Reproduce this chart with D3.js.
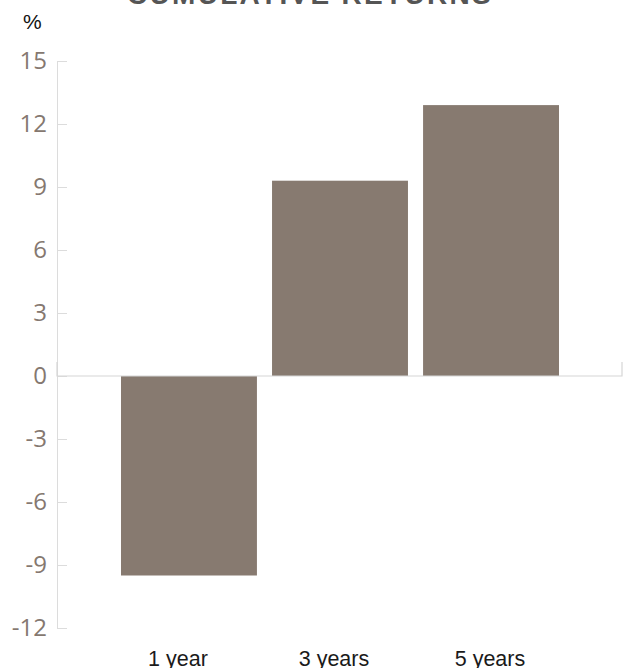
<!DOCTYPE html>
<html>
<head>
<meta charset="utf-8">
<script src="https://cdn.jsdelivr.net/npm/d3@7"></script>
<style>
  body { margin: 0; background: #fff; }
  svg { display: block; }
</style>
</head>
<body>
<div id="chart"></div>
<script>
var categories = ["1 year", "3 years", "5 years"];
var returns = [-9.5, 9.3, 12.9];
var yTicks = [15, 12, 9, 6, 3, 0, -3, -6, -9, -12];

var W = 629, H = 668;
var axisX = 57, axisEnd = 622;
var barColor = "#877a70";
var lineColor = "#dcdcdc";

var svg = d3.select("#chart")
  .append("svg")
  .attr("width", W)
  .attr("height", H);

var y = d3.scaleLinear()
  .domain([-12, 15])
  .range([628, 61]);

var x = d3.scaleBand()
  .domain(categories)
  .range([121, 559])
  .paddingInner(0.1)
  .paddingOuter(0);

// labels sit on their own slightly wider spacing in the original
var xLabel = d3.scalePoint()
  .domain(categories)
  .range([178, 490]);

// title (cut at top in the original)
svg.append("text")
  .attr("x", 310)
  .attr("y", 4)
  .attr("text-anchor", "middle")
  .style("font-family", "'Liberation Sans', Arial, sans-serif")
  .style("font-weight", "bold")
  .style("font-size", "28px")
  .style("letter-spacing", "2.3px")
  .attr("fill", "#555")
  .text("CUMULATIVE RETURNS");

svg.append("text")
  .attr("x", 23)
  .attr("y", 29)
  .style("font-family", "'Liberation Sans', Arial, sans-serif")
  .style("font-size", "21px")
  .attr("fill", "#111")
  .text("%");

// y axis
var yAxis = svg.append("g")
  .attr("transform", "translate(" + axisX + ",0)")
  .call(d3.axisLeft(y)
    .tickValues(yTicks)
    .tickSizeInner(-10)
    .tickSizeOuter(0)
    .tickPadding(10)
    .tickFormat(function (d) { return String(d); }));

yAxis.select(".domain").attr("stroke", lineColor);
yAxis.selectAll(".tick line").attr("stroke", lineColor);
yAxis.selectAll(".tick text")
  .style("font-family", "'Open Sans', sans-serif")
  .style("font-size", "24px")
  .attr("fill", "#857870");

// bars
svg.selectAll(".bar")
  .data(returns)
  .enter()
  .append("rect")
  .attr("class", "bar")
  .attr("x", function (d, i) { return x(categories[i]); })
  .attr("width", x.bandwidth())
  .attr("y", function (d) { return y(Math.max(d, 0)); })
  .attr("height", function (d) { return Math.abs(y(d) - y(0)); })
  .attr("fill", barColor);

// zero line with small end caps
var y0 = y(0);
svg.append("path")
  .attr("d", "M" + axisX + "," + (y0 - 14) + "V" + y0 + "H" + axisEnd + "V" + (y0 - 14))
  .attr("fill", "none")
  .attr("stroke", "#d6d6d6")
  .attr("stroke-width", 1.2);

// category labels
svg.selectAll(".cat")
  .data(categories)
  .enter()
  .append("text")
  .attr("class", "cat")
  .attr("x", function (d) { return xLabel(d); })
  .attr("y", 666)
  .attr("text-anchor", "middle")
  .style("font-family", "'Liberation Sans', Arial, sans-serif")
  .style("font-size", "21.5px")
  .attr("fill", "#1a1a1a")
  .text(function (d) { return d; });
</script>
</body>
</html>
